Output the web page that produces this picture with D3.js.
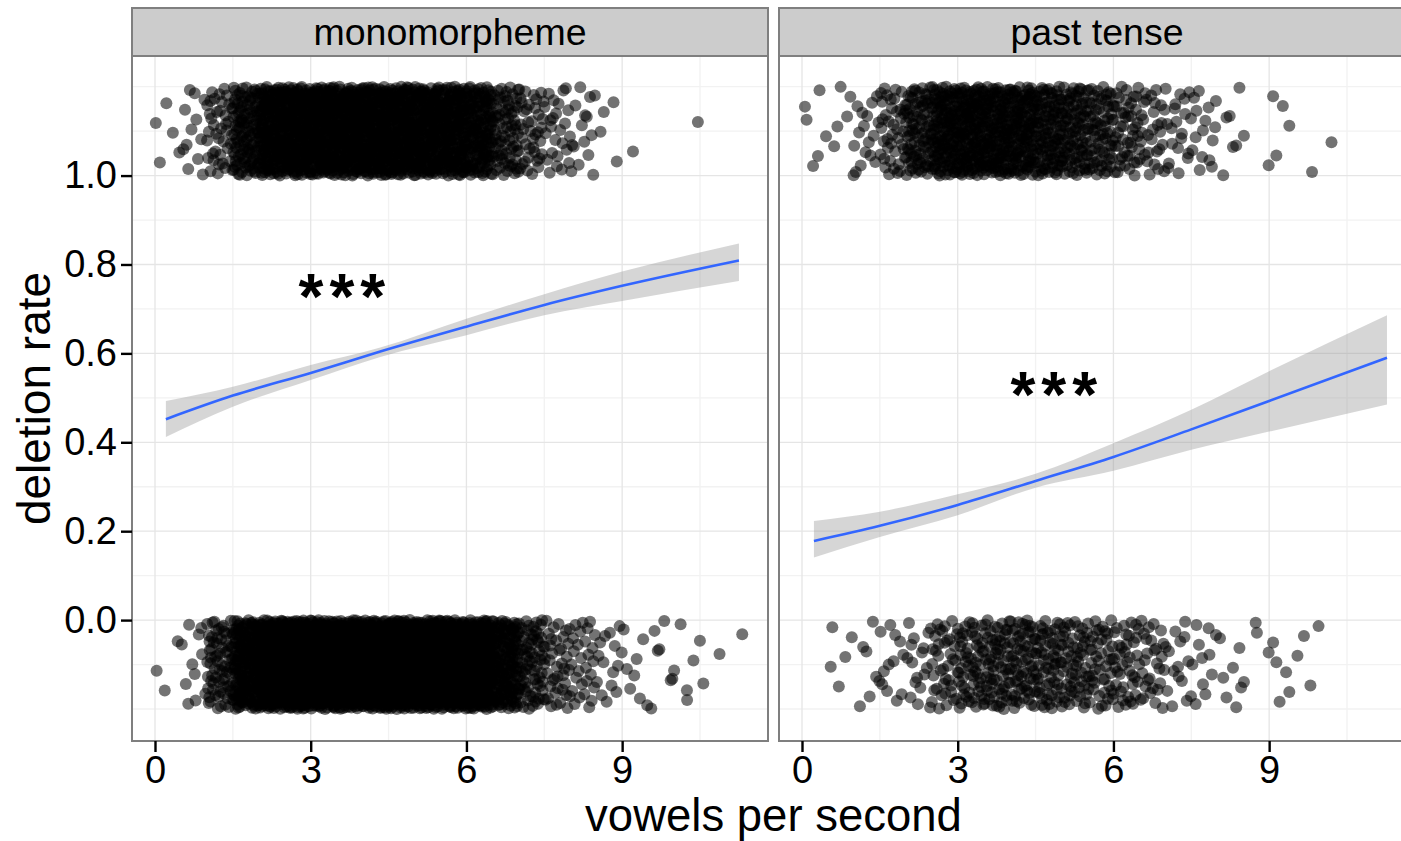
<!DOCTYPE html>
<html>
<head>
<meta charset="utf-8">
<script src="https://d3js.org/d3.v7.min.js"></script>
<style>
  body { margin: 0; background: #fff; }
  svg { display: block; font-family: "Liberation Sans", Arial, Helvetica, sans-serif; }
</style>
</head>
<body>
<svg id="chart" width="1401" height="841"></svg>
<script>
// facets
const panelNames = ['monomorpheme', 'past tense'];

const binStarts = [0, 0.5, 1, 1.5, 2, 2.5, 3, 3.5, 4, 4.5, 5, 5.5, 6, 6.5, 7, 7.5, 8, 8.5, 9, 9.5, 10, 10.5, 11];
const monoDeleted  = [5, 12, 40, 110, 170, 180, 180, 180, 180, 175, 170, 165, 140, 75, 40, 25, 15, 4, 1, 0, 1, 0, 0];
const monoRetained = [3, 11, 70, 170, 250, 250, 250, 250, 250, 250, 250, 250, 230, 150, 75, 40, 28, 15, 8, 7, 6, 2, 1];
const pastDeleted  = [6, 6, 16, 40, 85, 130, 140, 135, 125, 105, 90, 70, 48, 30, 20, 15, 6, 2, 4, 1, 1, 0, 0];
const pastRetained = [0, 5, 7, 12, 17, 38, 55, 64, 64, 60, 54, 45, 40, 28, 15, 11, 7, 4, 5, 4, 0, 0, 0];

// logistic smooth with 95% band
const monoX   = [0.21, 1.5, 3, 4.34, 6, 7.5, 9, 11.25];
const monoFit = [0.452, 0.505, 0.556, 0.604, 0.660, 0.709, 0.752, 0.809];
const monoLo  = [0.412, 0.480, 0.540, 0.592, 0.641, 0.686, 0.718, 0.763];
const monoHi  = [0.493, 0.525, 0.574, 0.613, 0.678, 0.733, 0.784, 0.847];

const pastX   = [0.23, 1.5, 3, 4.5, 6, 7.5, 9, 11.27];
const pastFit = [0.178, 0.212, 0.259, 0.313, 0.367, 0.429, 0.493, 0.590];
const pastLo  = [0.141, 0.187, 0.236, 0.298, 0.336, 0.383, 0.424, 0.485];
const pastHi  = [0.223, 0.244, 0.283, 0.329, 0.398, 0.473, 0.560, 0.686];

// significance labels
const starLabels = [{ x: 3.6, y: 0.754, text: '***' }, { x: 4.85, y: 0.533, text: '***' }];

const xTicks = [0, 3, 6, 9];
const xMinor = [1.5, 4.5, 7.5, 10.5];
const yTicks = [0, 0.2, 0.4, 0.6, 0.8, 1.0];
const yMinor = [-0.2, -0.1, 0.1, 0.3, 0.5, 0.7, 0.9, 1.1, 1.2];

const margin = { top: 56, bottom: 741 };
const panelX = [[132, 768], [779, 1415]];
const stripTop = 8;

const svg = d3.select('#chart');

const y = d3.scaleLinear().domain([-0.272, 1.269]).range([margin.bottom, margin.top]);

// van der Corput sequence, spreads the jitter evenly inside a bin
const vdc = (i, base) => {
    let f = 1, r = 0;
    while (i > 0) { f /= base; r += f * (i % base); i = Math.floor(i / base); }
    return r;
};

const toPoints = (counts, outcome, seed) => {
    const pts = [];
    let k = seed;
    counts.forEach((n, b) => {
        for (let j = 0; j < n; j++) {
            k++;
            const jy = 0.2 * vdc(k, 3);
            pts.push({
                x: binStarts[b] + 0.5 * vdc(k, 2),
                y: outcome === 1 ? 1 + jy : -jy,
            });
        }
    });
    return pts;
};

const panels = [
    {
        name: panelNames[0],
        points: toPoints(monoDeleted, 1, 11).concat(toPoints(monoRetained, 0, 517)),
        smooth: monoX.map((d, i) => ({ x: d, fit: monoFit[i], lo: monoLo[i], hi: monoHi[i] })),
        star: starLabels[0],
    },
    {
        name: panelNames[1],
        points: toPoints(pastDeleted, 1, 1203).concat(toPoints(pastRetained, 0, 2771)),
        smooth: pastX.map((d, i) => ({ x: d, fit: pastFit[i], lo: pastLo[i], hi: pastHi[i] })),
        star: starLabels[1],
    },
];

panels.forEach((p, pi) => {
    const [x0, x1] = panelX[pi];
    const x = d3.scaleLinear().domain([-0.443, 11.81]).range([x0, x1]);
    const g = svg.append('g');

    // grid
    g.selectAll('.xminor').data(xMinor).enter().append('line')
        .attr('x1', d => x(d)).attr('x2', d => x(d))
        .attr('y1', margin.top).attr('y2', margin.bottom)
        .attr('stroke', '#f2f2f2').attr('stroke-width', 1.3);
    g.selectAll('.yminor').data(yMinor).enter().append('line')
        .attr('x1', x0).attr('x2', x1)
        .attr('y1', d => y(d)).attr('y2', d => y(d))
        .attr('stroke', '#f2f2f2').attr('stroke-width', 1.3);
    g.selectAll('.xmajor').data(xTicks).enter().append('line')
        .attr('x1', d => x(d)).attr('x2', d => x(d))
        .attr('y1', margin.top).attr('y2', margin.bottom)
        .attr('stroke', '#e5e5e5').attr('stroke-width', 1.3);
    g.selectAll('.ymajor').data(yTicks).enter().append('line')
        .attr('x1', x0).attr('x2', x1)
        .attr('y1', d => y(d)).attr('y2', d => y(d))
        .attr('stroke', '#e5e5e5').attr('stroke-width', 1.3);

    // points
    g.append('g').selectAll('circle').data(p.points).enter().append('circle')
        .attr('cx', d => x(d.x))
        .attr('cy', d => y(d.y))
        .attr('r', 6)
        .attr('fill', '#000')
        .attr('fill-opacity', 0.55);

    // smooth
    const area = d3.area().curve(d3.curveMonotoneX)
        .x(d => x(d.x)).y0(d => y(d.lo)).y1(d => y(d.hi));
    const line = d3.line().curve(d3.curveMonotoneX)
        .x(d => x(d.x)).y(d => y(d.fit));
    g.append('path').datum(p.smooth).attr('d', area)
        .attr('fill', '#999999').attr('fill-opacity', 0.4);
    g.append('path').datum(p.smooth).attr('d', line)
        .attr('fill', 'none').attr('stroke', '#3366FF').attr('stroke-width', 2.6);

    g.append('text')
        .attr('x', x(p.star.x) + 3).attr('y', y(p.star.y) + 34)
        .attr('text-anchor', 'middle')
        .attr('font-size', 64).attr('font-weight', 'bold').attr('letter-spacing', 6)
        .text(p.star.text);

    // panel border
    g.append('rect')
        .attr('x', x0).attr('y', margin.top)
        .attr('width', x1 - x0).attr('height', margin.bottom - margin.top)
        .attr('fill', 'none').attr('stroke', '#7f7f7f').attr('stroke-width', 2);

    // strip
    g.append('rect')
        .attr('x', x0).attr('y', stripTop)
        .attr('width', x1 - x0).attr('height', margin.top - stripTop)
        .attr('fill', '#cccccc').attr('stroke', '#7f7f7f').attr('stroke-width', 2);
    g.append('text')
        .attr('x', (x0 + x1) / 2).attr('y', 45)
        .attr('text-anchor', 'middle').attr('font-size', 37.5)
        .text(p.name);

    // x axis
    g.append('g')
        .attr('transform', `translate(0,${margin.bottom})`)
        .call(d3.axisBottom(x).tickValues(xTicks).tickSize(11).tickPadding(4).tickFormat(d3.format('d')))
        .call(a => a.select('.domain').remove())
        .call(a => a.selectAll('line').attr('stroke', '#000').attr('stroke-width', 2.4))
        .call(a => a.selectAll('text').attr('font-size', 38).attr('fill', '#000').attr('font-family', null));
});

// y axis
svg.append('g')
    .attr('transform', `translate(${panelX[0][0]},0)`)
    .call(d3.axisLeft(y).tickValues(yTicks).tickSize(11).tickPadding(4).tickFormat(d3.format('.1f')))
    .call(a => a.select('.domain').remove())
    .call(a => a.selectAll('line').attr('stroke', '#000').attr('stroke-width', 2.4))
    .call(a => a.selectAll('text').attr('font-size', 38).attr('fill', '#000').attr('font-family', null));

// axis titles
svg.append('text')
    .attr('x', (panelX[0][0] + panelX[1][1]) / 2).attr('y', 831)
    .attr('text-anchor', 'middle').attr('font-size', 45.5)
    .text('vowels per second');
svg.append('text')
    .attr('transform', `translate(50,${(margin.top + margin.bottom) / 2}) rotate(-90)`)
    .attr('text-anchor', 'middle').attr('font-size', 46)
    .text('deletion rate');
</script>
</body>
</html>
